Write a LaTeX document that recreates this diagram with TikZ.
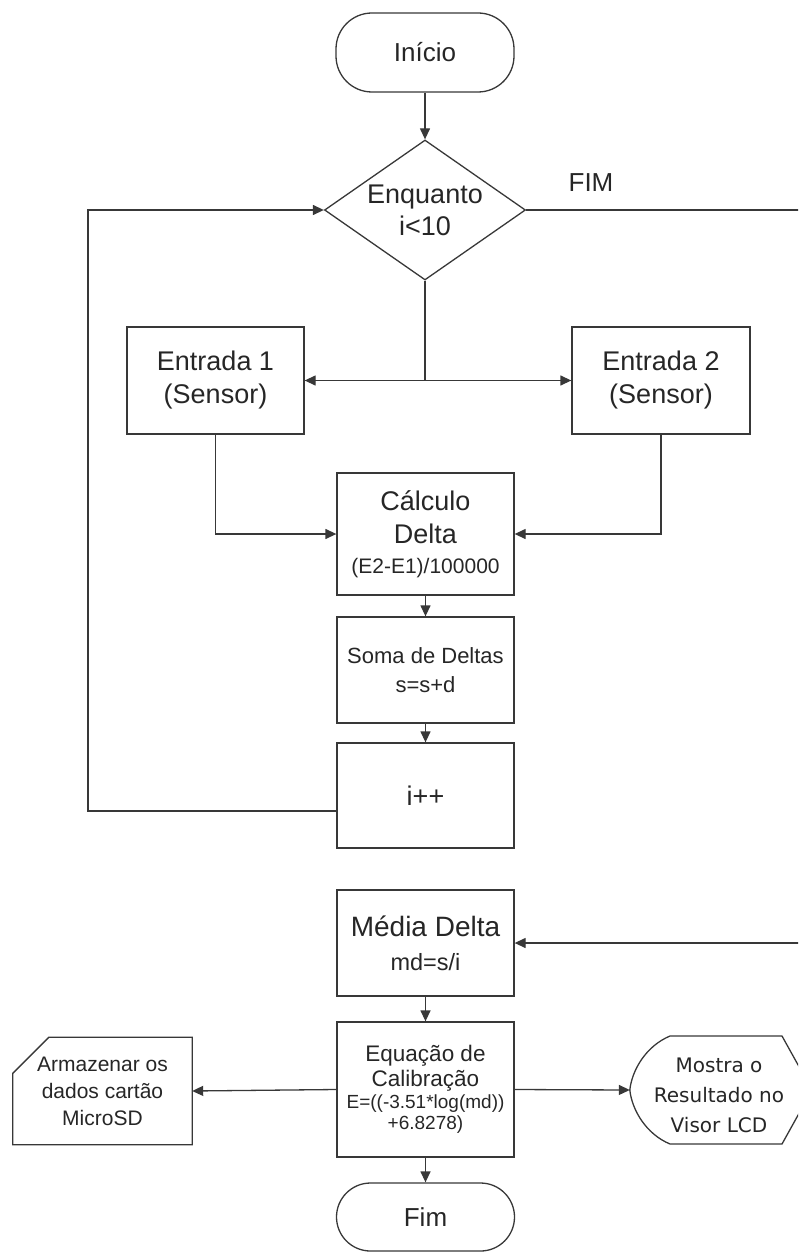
\documentclass[tikz,border=0pt]{standalone}
\usepackage{fontspec}
\setmainfont{Liberation Sans}
\newfontfamily\dejavu{DejaVu Sans}
\usetikzlibrary{arrows.meta,shapes.geometric}
\newcommand{\fsz}[2]{\fontsize{#1}{#2}\selectfont}
\begin{document}
\begin{tikzpicture}[x=1pt,y=-1pt,
  every node/.style={text=black!85, inner sep=0pt, align=center},
  stroke/.style={draw=black!78, line width=1.3pt},
  boxnode/.style={stroke, rectangle, minimum width=177pt},
  termnode/.style={stroke, rectangle, rounded corners=36pt, minimum width=178pt},
  arr/.style={stroke, -{Triangle[length=11pt,width=10pt]}},
  plain/.style={stroke}
]
\useasboundingbox (0,0) rectangle (798,1257);
\clip (0,0) rectangle (798,1257);

% nodes
\node[termnode, minimum height=79pt, font=\fsz{26}{30}] (inicio) at (425,52.5) {Início};
\node[stroke, diamond, minimum width=201pt, minimum height=140pt, aspect=1.436, font=\fsz{27}{32}] (diam) at (425,210)
  {Enquanto\\i<10};
\node[font=\fsz{26}{30}] (fimlbl) at (591,183) {FIM};

\node[boxnode, minimum height=107pt, font=\fsz{27}{33}] (e1) at (215.5,380.5) {Entrada 1\\(Sensor)};
\node[boxnode, minimum width=178pt, minimum height=107pt, font=\fsz{27}{33}] (e2) at (661,380.5) {Entrada 2\\(Sensor)};

\node[boxnode, minimum height=122pt, font=\fsz{27}{33}] (calc) at (425.5,534)
  {Cálculo\\Delta\\[-3pt]{\fsz{21}{26}(E2-E1)/100000}};
\node[boxnode, minimum height=106pt, font=\fsz{22}{29}] (soma) at (425.5,670)
  {Soma de Deltas\\s=s+d};
\node[boxnode, minimum height=105pt, font=\fsz{27}{30}] (ipp) at (425.5,795.5) {i++};

\node[boxnode, minimum height=106pt, font=\fsz{28}{34}] (media) at (425.5,943)
  {Média Delta\\{\fsz{23.5}{30}md=s/i}};
\node[boxnode, minimum height=135pt, font=\fsz{22.5}{25}] (equa) at (425.5,1089.5)
  {Equação de\\Calibração\\[-3pt]{\fsz{19}{21}E=((-3.51*log(md))}\\[-4pt]{\fsz{19}{21}+6.8278)}};
\node[termnode, rounded corners=34pt, minimum height=68pt, font=\fsz{26}{30}] (fim) at (425.5,1217) {Fim};

% storage card
\node[minimum width=179pt, minimum height=107pt, font=\fsz{21}{27}] (card) at (102.5,1091)
  {Armazenar os\\dados cartão\\MicroSD};
\draw[plain] (card.south west) -- ([yshift=-36pt]card.north west) -- ([xshift=36pt]card.north west)
  -- (card.north east) -- (card.south east) -- cycle;

% display
\node[minimum width=168pt, minimum height=108pt] (disp) at (714,1090) {};
\node[font=\dejavu\fsz{20}{30}] (disptxt) at (719,1095)
  {Mostra o\\Resultado no\\Visor LCD};
\draw[plain] (670,1036) -- (782,1036) -- (812,1090) -- (782,1144) -- (670,1144)
  .. controls (646,1134) and (632,1110) .. (disp.west)
  .. controls (632,1070) and (646,1046) .. (670,1036) -- cycle;

% connectors
\coordinate (lb) at (88,811);
\coordinate (rt) at (830,600);
\draw[arr] (inicio) -- (diam.north);
\draw[arr] (diam.south) |- (e1.east);
\draw[arr] (diam.south) |- (e2.west);
\draw[arr] (e1.south) |- (calc.west);
\draw[arr] (e2.south) |- (calc.east);
\draw[arr] (calc) -- (soma);
\draw[arr] (soma) -- (ipp);
\draw[arr] (ipp.west |- lb) -- (lb) |- (diam.west);
\draw[arr] (diam.east) -| (rt) |- (media.east);
\draw[arr] (media) -- (equa);
\draw[arr] (equa) -- (fim);
\draw[arr] (equa.west) -- (card.east);
\draw[arr] (equa.east) -- (disp.west);
\end{tikzpicture}
\end{document}
